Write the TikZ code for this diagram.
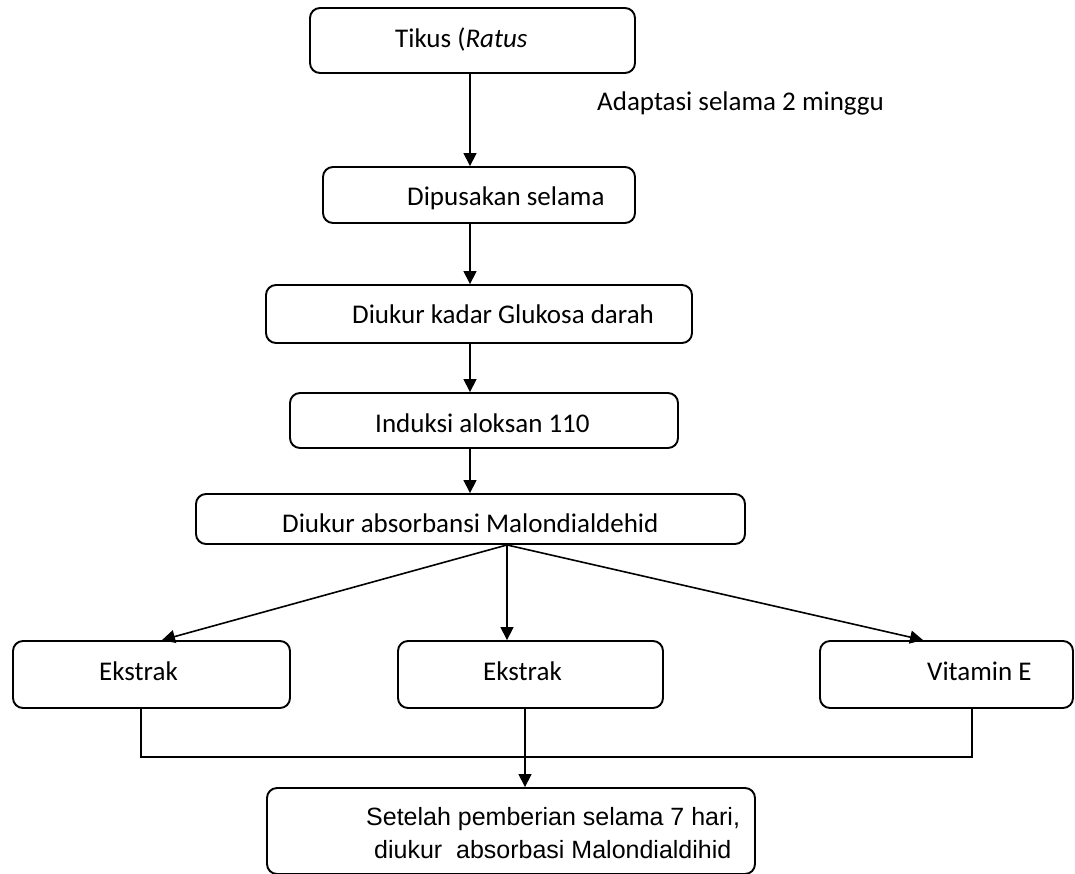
\documentclass[tikz,border=0pt]{standalone}
\usepackage{fontspec}
\setmainfont{Carlito}
\newfontfamily\arialf{Liberation Sans}
\usetikzlibrary{arrows.meta,calc}
\begin{document}
\begin{tikzpicture}[x=1pt,y=-1pt,
  box/.style={draw,line width=1.9pt,rounded corners=10pt,inner sep=0pt},
  txt/.style={anchor=base west,inner sep=0pt,font=\fontsize{27}{32}\selectfont},
  stxt/.style={anchor=base west,inner sep=0pt,font=\arialf\fontsize{25}{33}\selectfont},
  arr/.style={line width=1.6pt,-{Triangle[length=13pt,width=13pt]}},
  ln/.style={line width=1.6pt}]
\useasboundingbox (0,0) rectangle (1075,873);
% boxes
\node[box,minimum width=325pt,minimum height=65pt] (t) at (472.5,40.5) {};
\node[box,minimum width=312pt,minimum height=56pt] (d) at (479,195) {};
\node[box,minimum width=426pt,minimum height=58pt] (g) at (479,314) {};
\node[box,minimum width=388pt,minimum height=55pt] (i) at (484,420.5) {};
\node[box,minimum width=549pt,minimum height=50pt] (m) at (470.5,519) {};
\node[box,minimum width=277pt,minimum height=67pt] (e1) at (151.5,674.5) {};
\node[box,minimum width=265pt,minimum height=67pt] (e2) at (530.5,674.5) {};
\node[box,minimum width=253pt,minimum height=67pt] (v) at (946.5,674.5) {};
\node[box,minimum width=488pt,minimum height=86pt] (s) at (511,831) {};
% texts
\node[txt] (tt) at (395,47) {Tikus (\textit{Ratus}};
\node[txt] (ad) at (597,110) {Adaptasi selama 2 minggu};
\node[txt] (dt) at (407,205) {Dipusakan selama};
\node[txt] (gt) at (352,323) {Diukur kadar Glukosa darah};
\node[txt] (it) at (375,432) {Induksi aloksan 110};
\node[txt] (mt) at (282,532) {Diukur absorbansi Malondialdehid};
\node[txt] (e1t) at (99,680) {Ekstrak};
\node[txt] (e2t) at (483,680) {Ekstrak};
\node[txt] (vt) at (927,680) {Vitamin E};
\node[stxt] (st1) at (366,825) {Setelah pemberian selama 7 hari,};
\node[stxt] (st2) at (374,858) {diukur\ \ absorbasi Malondialdihid};
% guide coordinates
\coordinate (ax) at (470,0);
\coordinate (fx) at (507,0);
\coordinate (l1) at (162,0);
\coordinate (l3) at (923,0);
\coordinate (c1) at (141,0);
\coordinate (c2) at (525,0);
\coordinate (c3) at (972,0);
\coordinate (hy) at (0,757);
% connectors
\draw[arr] (t.south -| ax) -- (d.north -| ax);
\draw[arr] (d.south -| ax) -- (g.north -| ax);
\draw[arr] (g.south -| ax) -- (i.north -| ax);
\draw[arr] (i.south -| ax) -- (m.north -| ax);
\draw[arr] (m.south -| fx) -- (e1.north -| l1);
\draw[arr] (m.south -| fx) -- (e2.north -| fx);
\draw[arr] (m.south -| fx) -- (v.north -| l3);
\draw[ln] (e1.south -| c1) -- (c1 |- hy) -- (c3 |- hy) -- (v.south -| c3);
\draw[arr] (e2.south -| c2) -- (s.north -| c2);
\end{tikzpicture}
\end{document}
